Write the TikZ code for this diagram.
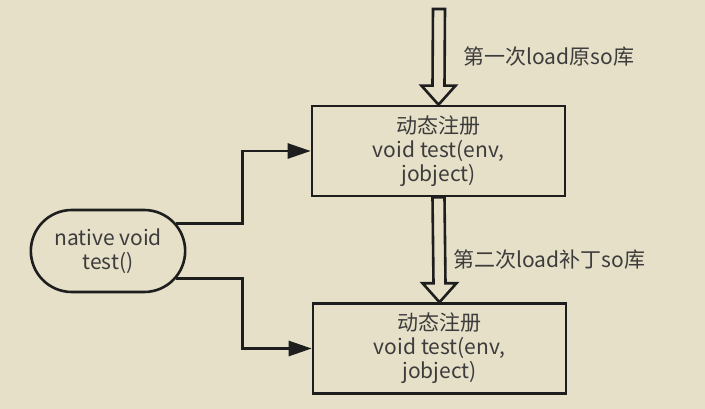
\documentclass[tikz,border=0pt]{standalone}
\usepackage{fontspec}
\setmainfont{Noto Sans CJK SC}
\definecolor{paper}{RGB}{230,224,200}
\definecolor{ink}{RGB}{30,30,30}
\definecolor{txt}{RGB}{60,60,60}
\usetikzlibrary{shapes.misc,arrows.meta,positioning,calc}

\tikzset{
  box/.style={draw=ink,line width=2.6pt,minimum width=253pt,minimum height=90pt,
    align=center,text=txt,font=\fontsize{21pt}{24pt}\selectfont},
  pill/.style={draw=ink,line width=2.6pt,rounded rectangle,minimum width=161pt,
    minimum height=82pt,align=center,text=txt,font=\fontsize{21pt}{24pt}\selectfont},
  lab/.style={anchor=west,text=txt,font=\fontsize{21pt}{24pt}\selectfont},
  conn/.style={draw=ink,line width=2.6pt,-{Triangle[length=23pt,width=15pt]}},
  hollow/.style={draw=ink,line width=2.6pt,fill=paper,line join=miter}
}
% hollow arrow: #1 start, #2 tip
\newcommand{\hollowarrow}[2]{%
  \draw[hollow] ($(#1)+(-6,0)$) -- ($(#2)+(-6,-19)$) -- ($(#2)+(-17,-19)$)
    -- (#2) -- ($(#2)+(17,-19)$) -- ($(#2)+(6,-19)$) -- ($(#1)+(6,0)$) -- cycle;}

\begin{document}
\begin{tikzpicture}[x=1pt,y=-1pt]
  \fill[paper] (0,0) rectangle (705,409);
  \useasboundingbox (0,0) rectangle (705,409);
  % boxes
  \node[box] (reg1) at (438.5,151) {动态注册\\void test(env,\\jobject)};
  \node[box] (reg2) at (439.5,348.5) {动态注册\\void test(env,\\jobject)};
  \node[pill] (native) at (108,251) {native void\\test()};
  % loading arrows
  \coordinate (src) at (439,9);
  \hollowarrow{src}{reg1.north}
  \hollowarrow{reg1.south}{reg2.north}
  \node[lab] (load1) at (460,57) {第一次load原so库};
  \node[lab] (load2) at (450,260) {第二次load补丁so库};
  % calls
  \draw[conn] (native.22) -- ++(66,0) |- (reg1.west);
  \draw[conn] (native.-22) -- ++(66,0) |- (reg2.west);
\end{tikzpicture}
\end{document}
